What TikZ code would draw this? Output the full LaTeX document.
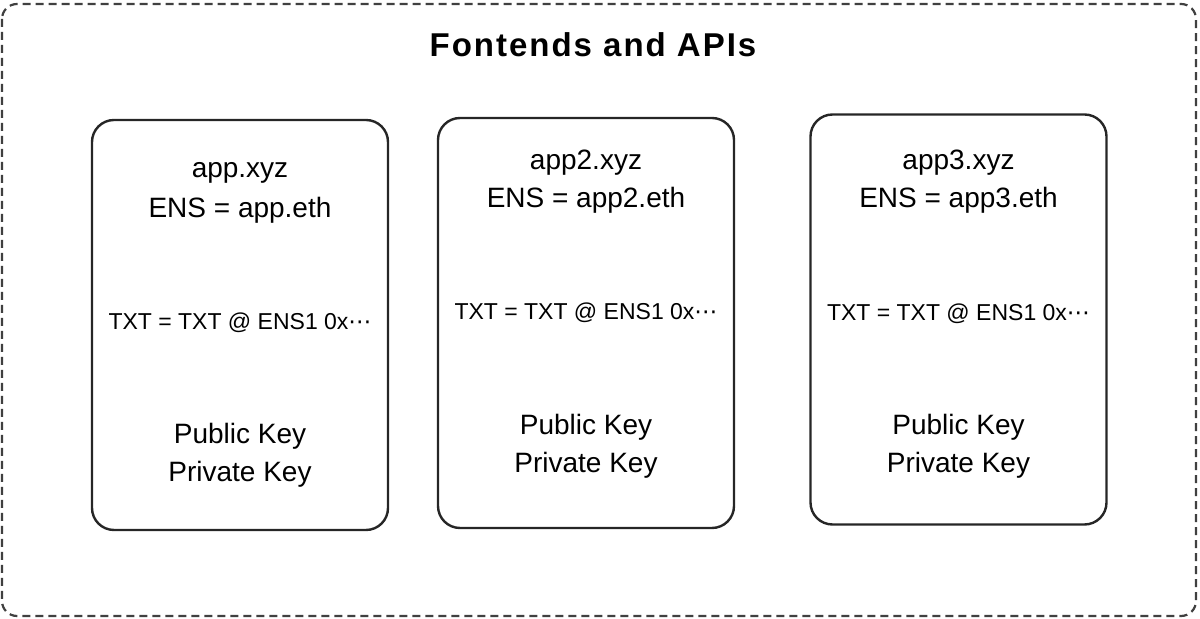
\documentclass[tikz,border=0pt]{standalone}
\usepackage{fontspec}
\setmainfont{Liberation Sans}
\newfontfamily\titlefont[LetterSpace=6]{Liberation Sans}
\newfontfamily\symfont{DejaVu Sans}
\usetikzlibrary{positioning}

\begin{document}
\begin{tikzpicture}[x=0.5pt,y=-0.5pt,
  appbox/.style={draw=black!85,line width=1.2pt,rounded corners=11pt,
    minimum width=148pt,minimum height=205pt,inner sep=0pt},
  bigtext/.style={font=\fontsize{14}{16}\selectfont,inner sep=0pt},
  smalltext/.style={font=\fontsize{11.5}{14}\selectfont,inner sep=0pt}]
  \useasboundingbox (0,0) rectangle (1200,619);
  % outer dashed frame
  \draw[black!75,line width=1.1pt,dash pattern=on 4pt off 2.5pt,rounded corners=7.5pt]
    (2,4) rectangle (1196,616);
  \node[font=\titlefont\bfseries\fontsize{16.5}{19}\selectfont,inner sep=0pt] (title) at (593,45) {Fontends and APIs};
  % one box per app: index/name/x/y/name-line/txt-line/key-line
  \foreach \i/\app/\x/\y/\ya/\yt/\yk in {1/app/240/325/173/323/436,
      2/app2/586/323/163/313/427, 3/app3/958.5/319.5/163/314/427} {
    \node[appbox] (box\i) at (\x,\y) {};
    \node[bigtext] (name\i) at (\x,\ya) {\app.xyz};
    \node[bigtext] (ens\i) at (\x,{\ya+37}) {ENS = \app.eth};
    \node[smalltext] (txt\i) at (\x,\yt) {TXT = TXT @ ENS1 0x{\symfont ⋯}};
    \node[bigtext] (pub\i) at (\x,\yk) {Public Key};
    \node[bigtext] (priv\i) at (\x,{\yk+38}) {Private Key};
  }
\end{tikzpicture}
\end{document}
